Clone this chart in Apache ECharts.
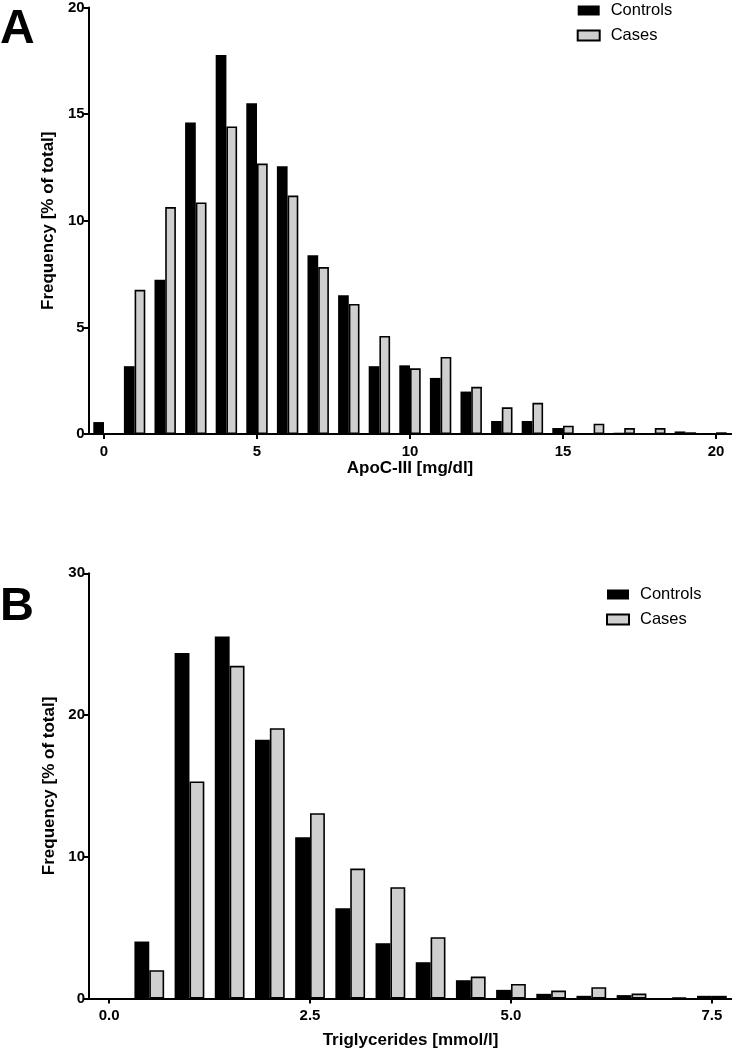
<!DOCTYPE html>
<html>
<head>
<meta charset="utf-8">
<script src="https://cdn.jsdelivr.net/npm/echarts@6/dist/echarts.min.js"></script>
<style>
html,body{margin:0;padding:0;background:#fff;}
#chart{width:732px;height:1050px;}
</style>
</head>
<body>
<div id="chart"></div>
<script>
// Panel A: ApoC-III [mg/dl]
const apocCategories = ['0','1','2','3','4','5','6','7','8','9','10','11','12','13','14','15','16','17','18','19','20'];
const apocControls = [0.56, 3.18, 7.23, 14.61, 17.77, 15.51, 12.55, 8.38, 6.51, 3.18, 3.22, 2.63, 1.99, 0.61, 0.61, 0.28, 0, 0.06, 0, 0.12, 0];
const apocCases    = [0, 6.76, 10.64, 10.86, 14.42, 12.68, 11.18, 7.83, 6.10, 4.60, 3.08, 3.61, 2.21, 1.25, 1.46, 0.39, 0.48, 0.28, 0.28, 0.08, 0.08];

// Panel B: Triglycerides [mmol/l]
const tgCategories = ['0.0','0.5','1.0','1.5','2.0','2.5','3.0','3.5','4.0','4.5','5.0','5.5','6.0','6.5','7.0','7.5'];
const tgControls = [0, 4.02, 24.38, 25.54, 18.25, 11.38, 6.37, 3.90, 2.56, 1.29, 0.61, 0.33, 0.19, 0.24, 0, 0.19];
const tgCases    = [0, 2.00, 15.31, 23.47, 19.07, 13.07, 9.17, 7.85, 4.33, 1.55, 1.03, 0.56, 0.80, 0.35, 0.06, 0.19];

const seriesNames = ['Controls', 'Cases'];
const yTitle = 'Frequency [% of total]';
const xTitleA = 'ApoC-III [mg/dl]';
const xTitleB = 'Triglycerides [mmol/l]';

const FONT = '"Liberation Sans", Arial, Helvetica, sans-serif';
const controlStyle = { color: '#000000' };
const caseStyle = { color: '#cfcfcf', borderColor: '#000000', borderWidth: 1.6 };

// empty bins are not drawn
function bins(arr) { return arr.map(function (v) { return v === 0 ? null : v; }); }

function xAxisCfg(gridIndex, cats, name, gap) {
  return {
    type: 'category', gridIndex: gridIndex, data: cats,
    name: name, nameLocation: 'middle', nameGap: gap,
    nameTextStyle: { fontFamily: FONT, fontWeight: 'bold', fontSize: 17, color: '#000' },
    axisLine: { lineStyle: { color: '#000', width: 2 } },
    axisTick: { show: true, alignWithLabel: true, length: 5, lineStyle: { color: '#000', width: 2 },
      interval: function (i) { return i % 5 === 0; } },
    axisLabel: { interval: function (i) { return i % 5 === 0; }, margin: 10,
      fontFamily: FONT, fontWeight: 'bold', fontSize: 15, color: '#000' },
    splitLine: { show: false }
  };
}
function yAxisCfg(gridIndex, max, interval) {
  return {
    type: 'value', gridIndex: gridIndex, min: 0, max: max, interval: interval,
    name: yTitle, nameLocation: 'middle', nameGap: 30,
    nameTextStyle: { fontFamily: FONT, fontWeight: 'bold', fontSize: 17, color: '#000' },
    axisLine: { show: true, lineStyle: { color: '#000', width: 2 } },
    axisTick: { show: true, length: 5, lineStyle: { color: '#000', width: 2 } },
    axisLabel: { margin: 4, fontFamily: FONT, fontWeight: 'bold', fontSize: 15, color: '#000' },
    splitLine: { show: false }
  };
}
function legendCfg(left, top) {
  return {
    data: seriesNames, orient: 'vertical', left: left, top: top,
    icon: 'rect', itemWidth: 22, itemHeight: 10, itemGap: 8,
    textStyle: { fontFamily: FONT, fontSize: 16.5, color: '#000', lineHeight: 16, padding: [0, 0, 0, 6] },
    padding: 0, selectedMode: false
  };
}

const chart = echarts.init(document.getElementById('chart'), null, { renderer: 'canvas' });
chart.setOption({
  animation: false,
  backgroundColor: '#ffffff',
  grid: [
    { left: 88.7, right: 0.7, top: 6, bottom: 616 },
    { left: 89, right: -5, top: 573.3, bottom: 51.5 }
  ],
  xAxis: [ xAxisCfg(0, apocCategories, xTitleA, 25.5), xAxisCfg(1, tgCategories, xTitleB, 33.5) ],
  yAxis: [ yAxisCfg(0, 20, 5), yAxisCfg(1, 30, 10) ],
  legend: [ legendCfg(576.7, 2), legendCfg(606, 586) ],
  graphic: [
    { type: 'text', left: 0, top: 6, style: { text: 'A', font: 'bold 48px ' + FONT, fill: '#000' } },
    { type: 'text', left: 0, top: 584, style: { text: 'B', font: 'bold 47px ' + FONT, fill: '#000' } }
  ],
  series: [
    { name: seriesNames[0], type: 'bar', xAxisIndex: 0, yAxisIndex: 0, data: bins(apocControls), barWidth: '35%', barGap: '0%', itemStyle: controlStyle },
    { name: seriesNames[1], type: 'bar', xAxisIndex: 0, yAxisIndex: 0, data: bins(apocCases), barWidth: '35%', barGap: '0%', itemStyle: caseStyle },
    { name: seriesNames[0], type: 'bar', xAxisIndex: 1, yAxisIndex: 1, data: bins(tgControls), barWidth: '37%', barGap: '0%', itemStyle: controlStyle },
    { name: seriesNames[1], type: 'bar', xAxisIndex: 1, yAxisIndex: 1, data: bins(tgCases), barWidth: '37%', barGap: '0%', itemStyle: caseStyle }
  ]
});
</script>
</body>
</html>
